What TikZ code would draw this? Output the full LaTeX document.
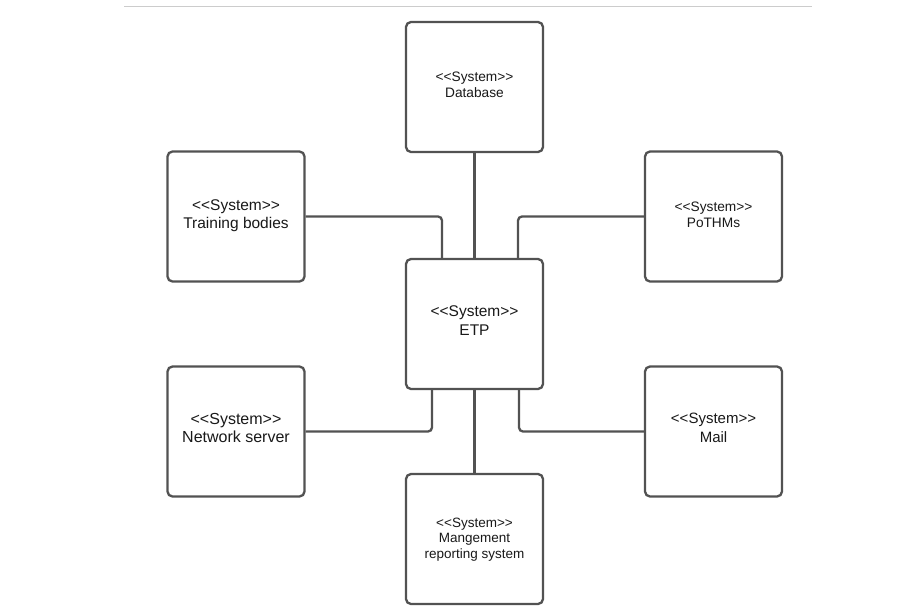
\documentclass[tikz,border=0pt]{standalone}
\usepackage{fontspec}
\setmainfont[Ligatures=NoCommon]{Liberation Sans}
\newcommand{\stereo}{<{}<System>{}>}
\begin{document}
\begin{tikzpicture}[x=1pt,y=-1pt,
  sysbox/.style={draw=black!68, line width=2.3pt, rounded corners=5pt, minimum width=137pt, minimum height=130pt, inner sep=0pt},
  lbl/.style={inner sep=0pt, align=center, text=black!90},
  conn/.style={draw=black!68, line width=2.3pt, rounded corners=4pt}]
\useasboundingbox[fill=white] (0,0) rectangle (916,616);
\draw[black!20, line width=1pt] (124,6) -- (812,6);
\node[sysbox] (db) at (474.5,87) {};
\node[sysbox] (tb) at (236,216.5) {};
\node[sysbox] (po) at (713.5,216.5) {};
\node[sysbox] (etp) at (474.5,324) {};
\node[sysbox] (ns) at (236,431.5) {};
\node[sysbox] (ml) at (713.5,431.5) {};
\node[sysbox] (mg) at (474.5,539) {};
\node[lbl, font=\fontsize{13.7}{16}\selectfont] (dbt) at ([yshift=2pt]db.center) {\stereo\\Database};
\node[lbl, font=\fontsize{15.5}{18.5}\selectfont] (tbt) at ([yshift=1pt]tb.center) {\stereo\\Training bodies};
\node[lbl, font=\fontsize{13.7}{15.5}\selectfont] (pot) at ([yshift=1.5pt]po.center) {\stereo\\PoTHMs};
\node[lbl, font=\fontsize{15.5}{19}\selectfont] (etpt) at ([yshift=3pt]etp.center) {\stereo\\ETP};
\node[lbl, font=\fontsize{16}{18.5}\selectfont] (nst) at ([yshift=3.5pt]ns.center) {\stereo\\Network server};
\node[lbl, font=\fontsize{15}{19}\selectfont] (mlt) at ([yshift=3.5pt]ml.center) {\stereo\\Mail};
\node[lbl, font=\fontsize{13.5}{15.5}\selectfont] (mgt) at ([yshift=-0.5pt]mg.center) {\stereo\\Mangement\\reporting system};
\draw[conn] (db.south) -- (etp.north);
\draw[conn] (tb.east) -| ([xshift=-32.5pt]etp.north);
\draw[conn] (po.west) -| ([xshift=43.5pt]etp.north);
\draw[conn] (ns.east) -| ([xshift=-42.5pt]etp.south);
\draw[conn] (ml.west) -| ([xshift=44.5pt]etp.south);
\draw[conn] (mg.north) -- (etp.south);
\end{tikzpicture}
\end{document}
